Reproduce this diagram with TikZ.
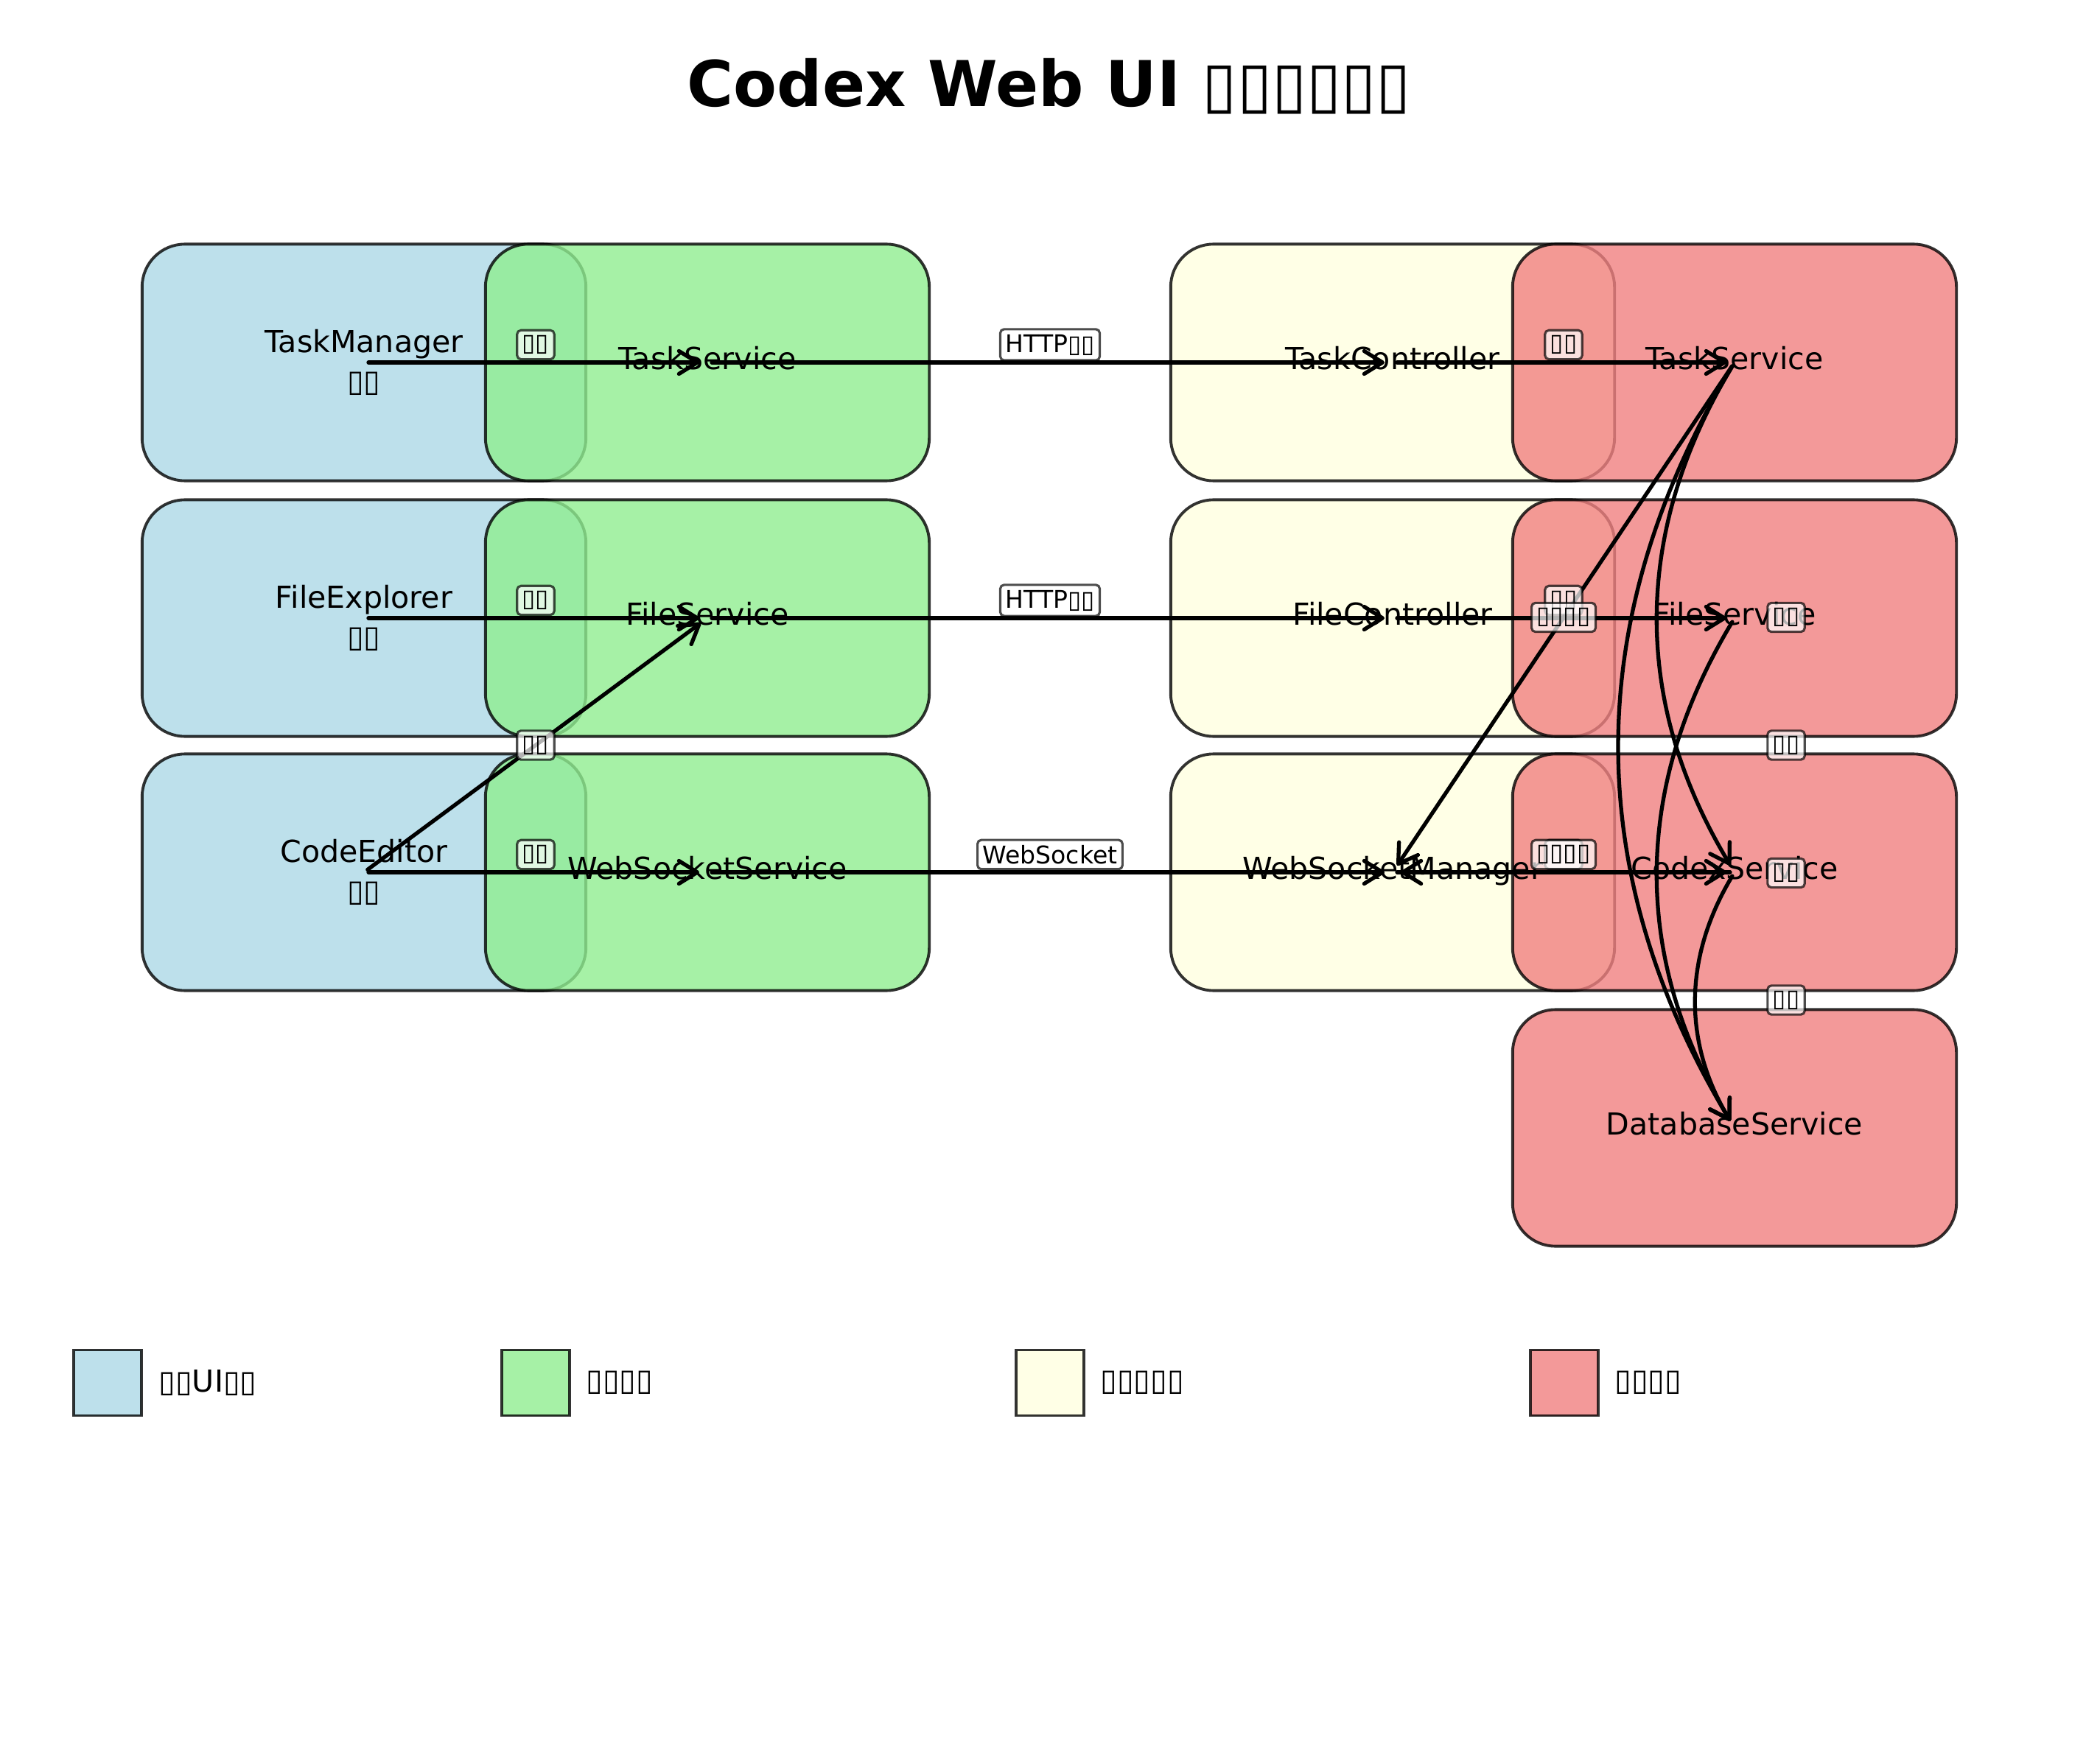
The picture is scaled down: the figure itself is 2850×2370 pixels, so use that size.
\documentclass[tikz,border=0pt]{standalone}
\usepackage{fontspec}
\setmainfont{DejaVu Sans}
\usetikzlibrary{arrows.meta,calc}
\definecolor{uiblue}{HTML}{ADD8E6}
\definecolor{frontgreen}{HTML}{90EE90}
\definecolor{ctrlyellow}{HTML}{FFFFE0}
\definecolor{srvred}{HTML}{F08080}
\tikzset{
    boxnode/.style={
        rectangle,
        rounded corners=0.58cm,
        draw=black, % 边框颜色
        draw opacity=0.8,
        fill opacity=0.8, % 半透明填充
        line width=1.1pt,
        minimum width=6.02cm,
        minimum height=3.21cm,
        inner sep=0
    },
    uinode/.style={boxnode, fill=uiblue},
    frontnode/.style={boxnode, fill=frontgreen},
    ctrlnode/.style={boxnode, fill=ctrlyellow},
    srvnode/.style={boxnode, fill=srvred},
    textnode/.style={
        align=center,
        inner sep=0,
        font=\fontsize{11.7pt}{15.1pt}\selectfont
    },
    wordnode/.style={
        textnode,
        text height=0.76em,
        text depth=0.24em
    },
    labelnode/.style={
        rectangle,
        rounded corners=1.5pt,
        draw=black,
        draw opacity=0.7,
        fill=white,
        fill opacity=0.7, % 白色半透明底
        text opacity=1,
        line width=0.9pt,
        inner sep=2pt,
        font=\fontsize{9.4pt}{11pt}\selectfont
    },
    keynode/.style={
        rectangle,
        draw=black,
        draw opacity=0.8,
        fill opacity=0.8,
        line width=1.1pt,
        minimum width=0.92cm,
        minimum height=0.89cm,
        inner sep=0
    },
    flow/.style={
        ->,
        >={Straight Barb[length=0.25cm,width=0.31cm,round]},
        line width=1.5pt,
        line cap=round,
        shorten >=0.11cm,
        shorten <=0.06cm
    }
}
\begin{document}
\begin{tikzpicture}[x=0.01cm, y=-0.01cm]
    \useasboundingbox (0,0) rectangle (2850,2370);
    % 标题
    \node[font=\bfseries\fontsize{24.4pt}{29pt}\selectfont, anchor=base] (title) at (1424,145) {Codex Web UI ▯▯▯▯▯▯};

    % 前端组件
    \node[uinode] (ui1) at (494,492) {};
    \node[uinode] (ui2) at (494,839) {};
    \node[uinode] (ui3) at (494,1184) {};
    % 前端服务
    \node[frontnode] (fe1) at (960,492) {};
    \node[frontnode] (fe2) at (960,839) {};
    \node[frontnode] (fe3) at (960,1184) {};
    % 后端控制器
    \node[ctrlnode] (ctl1) at (1890,492) {};
    \node[ctrlnode] (ctl2) at (1890,839) {};
    \node[ctrlnode] (ctl3) at (1890,1184) {};
    % 后端服务
    \node[srvnode] (srv1) at (2354,492) {};
    \node[srvnode] (srv2) at (2354,839) {};
    \node[srvnode] (srv3) at (2354,1184) {};
    \node[srvnode] (srv4) at (2354,1531) {};

    % 文字
    \node[textnode] (ui1t) at (ui1) {TaskManager\\▯▯};
    \node[textnode] (ui2t) at (ui2) {FileExplorer\\▯▯};
    \node[textnode] (ui3t) at (ui3) {CodeEditor\\▯▯};
    \node[wordnode] (fe1t) at (fe1) {TaskService};
    \node[wordnode] (fe2t) at (fe2) {FileService};
    \node[wordnode] (fe3t) at (fe3) {WebSocketService};
    \node[wordnode] (ctl1t) at (ctl1) {TaskController};
    \node[wordnode] (ctl2t) at (ctl2) {FileController};
    \node[wordnode] (ctl3t) at (ctl3) {WebSocketManager};
    \node[wordnode] (srv1t) at (srv1) {TaskService};
    \node[wordnode] (srv2t) at (srv2) {FileService};
    \node[wordnode] (srv3t) at (srv3) {CodexService};
    \node[wordnode] (srv4t) at (srv4) {DatabaseService};

    % 连线
    \draw[flow] (ui1.center) -- (fe1.center);
    \draw[flow] (fe1.center) -- (ctl1.center);
    \draw[flow] (ctl1.center) -- (srv1.center);
    \draw[flow] (ui2.center) -- (fe2.center);
    \draw[flow] (fe2.center) -- (ctl2.center);
    \draw[flow] (ctl2.center) -- (srv2.center);
    \draw[flow] (ui3.center) -- (fe3.center);
    \draw[flow] (ui3.center) -- (fe2.center);
    \draw[flow] (fe3.center) -- (ctl3.center);
    \draw[flow] (ctl3.center) -- (srv3.center);
    \draw[flow] (srv3.center) -- (ctl3.center);
    \draw[flow] (srv1.center) -- (ctl3.center);
    \draw[flow] (srv1.center) to[bend right=31] (srv3.center);
    \draw[flow] (srv1.center) to[bend right=31] (srv4.center);
    \draw[flow] (srv2.center) to[bend right=31] (srv4.center);
    \draw[flow] (srv3.center) to[bend right=31] (srv4.center);

    % 连线标签
    \node[labelnode, yshift=0.24cm] (l1) at ($(ui1)!0.5!(fe1)$) {▯▯};
    \node[labelnode, yshift=0.24cm] (l2) at ($(fe1)!0.5!(ctl1)$) {HTTP▯▯};
    \node[labelnode, yshift=0.24cm] (l3) at ($(ctl1)!0.5!(srv1)$) {▯▯};
    \node[labelnode, yshift=0.24cm] (l4) at ($(ui2)!0.5!(fe2)$) {▯▯};
    \node[labelnode, yshift=0.24cm] (l5) at ($(fe2)!0.5!(ctl2)$) {HTTP▯▯};
    \node[labelnode, yshift=0.24cm] (l6) at ($(ctl2)!0.5!(srv2)$) {▯▯};
    \node[labelnode, yshift=0.24cm] (l7) at ($(ui3)!0.5!(fe3)$) {▯▯};
    \node[labelnode] (l8) at ($(ui3)!0.5!(fe2)$) {▯▯};
    \node[labelnode, yshift=0.24cm] (l9) at ($(fe3)!0.5!(ctl3)$) {WebSocket};
    \node[labelnode, yshift=0.24cm] (l10) at ($(ctl3)!0.5!(srv3)$) {▯▯};
    \node[labelnode, yshift=0.24cm] (l11) at ($(srv3)!0.5!(ctl3)$) {▯▯▯▯};
    \node[labelnode] (l12) at ($(srv1)!0.5!(ctl3)$) {▯▯▯▯};
    \node[labelnode, xshift=0.70cm] (l13) at ($(srv1)!0.5!(srv3)$) {▯▯};
    \node[labelnode, xshift=0.70cm] (l14) at ($(srv1)!0.5!(srv4)$) {▯▯};
    \node[labelnode, xshift=0.70cm] (l15) at ($(srv2)!0.5!(srv4)$) {▯▯};
    \node[labelnode, xshift=0.70cm] (l16) at ($(srv3)!0.5!(srv4)$) {▯▯};

    % 图例
    \node[keynode, fill=uiblue] (key1) at (146,1877) {};
    \node[keynode, fill=frontgreen] (key2) at (727,1877) {};
    \node[keynode, fill=ctrlyellow] (key3) at (1425,1877) {};
    \node[keynode, fill=srvred] (key4) at (2123,1877) {};
    \node[textnode, anchor=west] (key1t) at (215,1877) {▯▯UI▯▯};
    \node[textnode, anchor=west] (key2t) at (795,1877) {▯▯▯▯};
    \node[textnode, anchor=west] (key3t) at (1493,1877) {▯▯▯▯▯};
    \node[textnode, anchor=west] (key4t) at (2191,1877) {▯▯▯▯};
\end{tikzpicture}
\end{document}
